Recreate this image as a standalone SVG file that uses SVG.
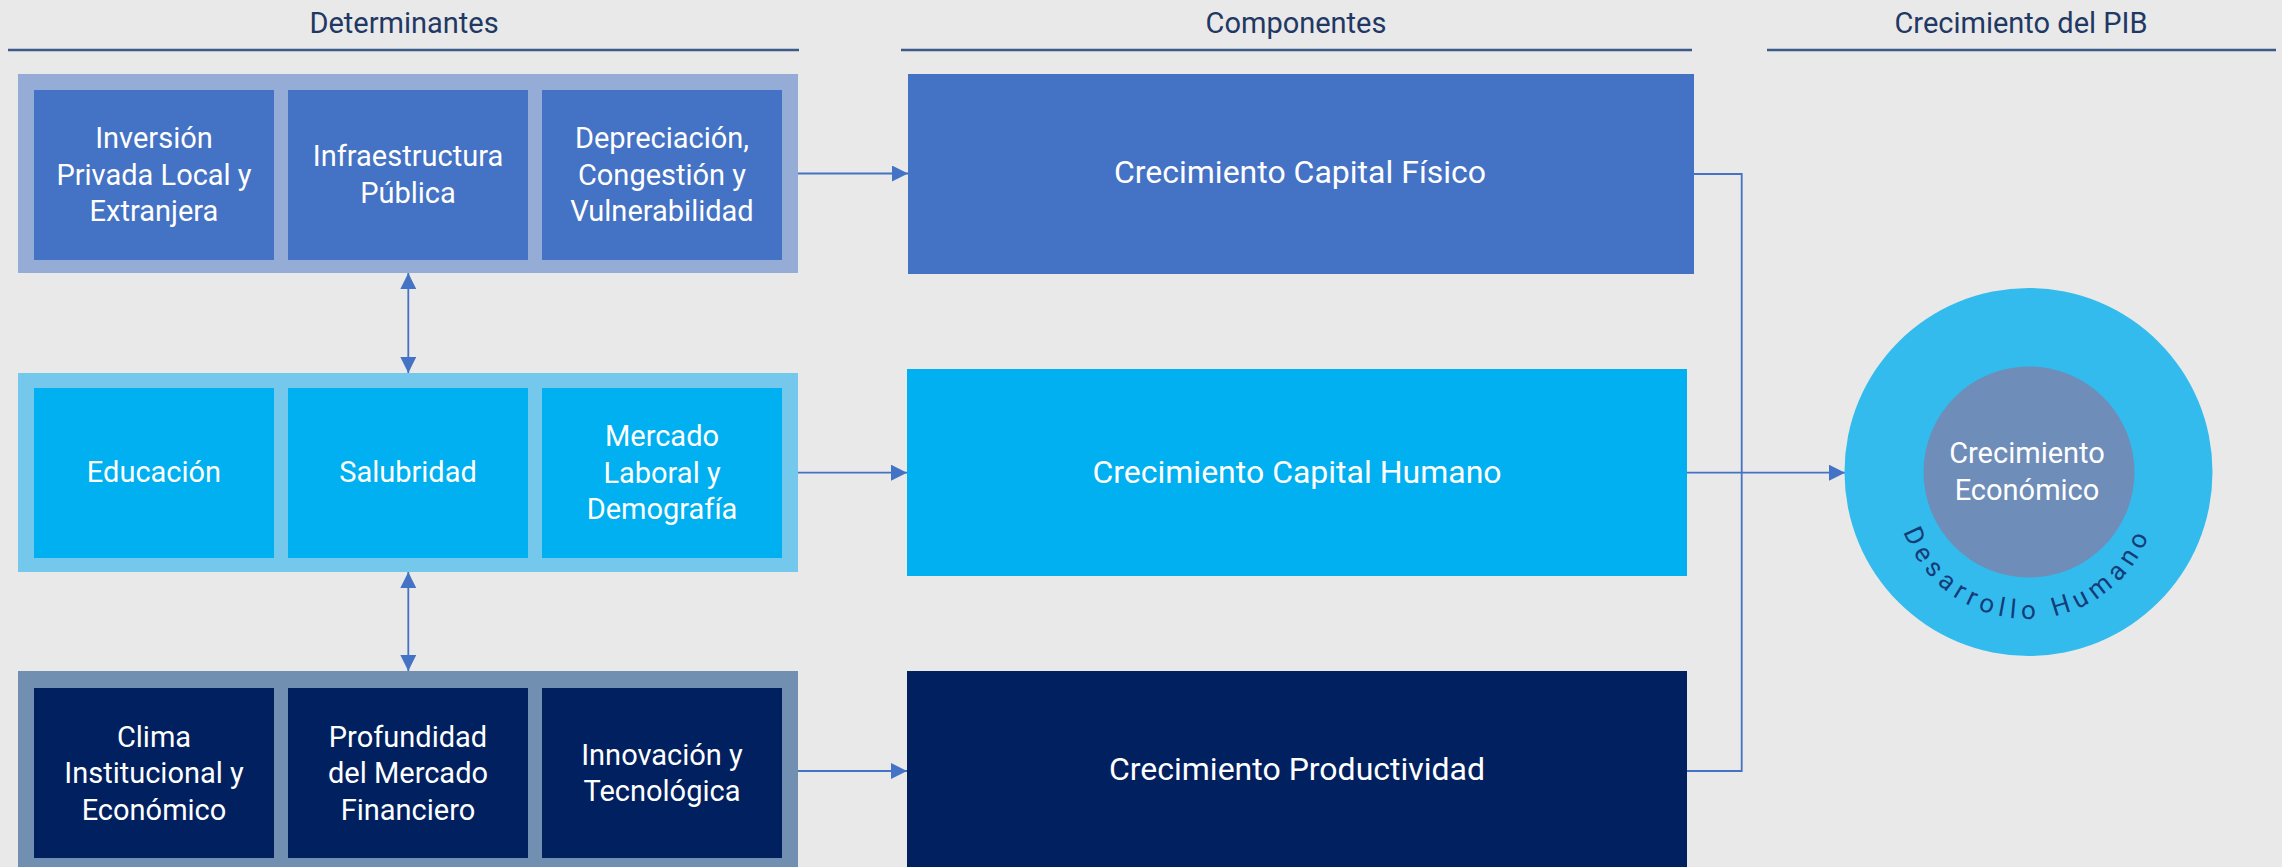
<svg xmlns="http://www.w3.org/2000/svg" width="2282" height="867" viewBox="0 0 2282 867">
<style>
.title{font-family:Roboto,"Liberation Sans",sans-serif;font-size:29px;fill:#1f3864;text-anchor:middle}
.hdr{stroke:#3e5a8a;stroke-width:2.5;fill:none}
.bt{font-family:Roboto,"Liberation Sans",sans-serif;font-size:29px;fill:#ffffff;text-anchor:middle}
.ct{font-family:Roboto,"Liberation Sans",sans-serif;font-size:32px;fill:#ffffff;text-anchor:middle}
.conn{stroke:#4472c4;stroke-width:1.8;fill:none}
.o1{fill:#94acd6}.i1{fill:#4472c4}
.o2{fill:#73c8ec}.i2{fill:#00b0f0}
.o3{fill:#718fb0}.i3{fill:#002060}
</style>
<defs>
<marker id="ah" viewBox="0 0 16 16" refX="16" refY="8" markerWidth="16" markerHeight="16" markerUnits="userSpaceOnUse" orient="auto-start-reverse">
<path d="M0,0 L16,8 L0,16 z" fill="#4472c4"/>
</marker>
<path id="arc" d="M1896,488 A131,131 0 0 0 2158,488"/>
</defs>
<rect x="0" y="0" width="2282" height="867" fill="#e9e9e9"/>

<g id="headers">
<text class="title" x="404" y="33">Determinantes</text>
<line class="hdr" x1="8" y1="50" x2="799" y2="50"/>
<text class="title" x="1296" y="33">Componentes</text>
<line class="hdr" x1="901" y1="50" x2="1692" y2="50"/>
<text class="title" x="2021" y="33">Crecimiento del PIB</text>
<line class="hdr" x1="1767" y1="50" x2="2276" y2="50"/>
</g>

<g id="connectors">
<line class="conn" x1="798" y1="173.5" x2="908" y2="173.5" marker-end="url(#ah)"/>
<line class="conn" x1="798" y1="472.7" x2="907" y2="472.7" marker-end="url(#ah)"/>
<line class="conn" x1="798" y1="771" x2="907" y2="771" marker-end="url(#ah)"/>
<line class="conn" x1="408.3" y1="273" x2="408.3" y2="373" marker-start="url(#ah)" marker-end="url(#ah)"/>
<line class="conn" x1="408.3" y1="572" x2="408.3" y2="671" marker-start="url(#ah)" marker-end="url(#ah)"/>
<polyline class="conn" points="1694,174 1741.7,174 1741.7,771 1687,771"/>
<line class="conn" x1="1687" y1="472.7" x2="1845" y2="472.7" marker-end="url(#ah)"/>
</g>

<g id="row1">
<rect class="o1" x="18" y="74" width="780" height="199"/>
<g id="inversion"><rect class="i1" x="34" y="90" width="240" height="170"/>
<text class="bt" x="154" y="148">Inversión</text><text class="bt" x="154" y="184.5">Privada Local y</text><text class="bt" x="154" y="221">Extranjera</text></g>
<g id="infraestructura"><rect class="i1" x="288" y="90" width="240" height="170"/>
<text class="bt" x="408" y="166">Infraestructura</text><text class="bt" x="408" y="202.5">Pública</text></g>
<g id="depreciacion"><rect class="i1" x="542" y="90" width="240" height="170"/>
<text class="bt" x="662" y="148">Depreciación,</text><text class="bt" x="662" y="184.5">Congestión y</text><text class="bt" x="662" y="221">Vulnerabilidad</text></g>
</g>

<g id="row2">
<rect class="o2" x="18" y="373" width="780" height="199"/>
<g id="educacion"><rect class="i2" x="34" y="388" width="240" height="170"/>
<text class="bt" x="154" y="482">Educación</text></g>
<g id="salubridad"><rect class="i2" x="288" y="388" width="240" height="170"/>
<text class="bt" x="408" y="482">Salubridad</text></g>
<g id="mercado"><rect class="i2" x="542" y="388" width="240" height="170"/>
<text class="bt" x="662" y="446">Mercado</text><text class="bt" x="662" y="482.5">Laboral y</text><text class="bt" x="662" y="519">Demografía</text></g>
</g>

<g id="row3">
<rect class="o3" x="18" y="671" width="780" height="199"/>
<g id="clima"><rect class="i3" x="34" y="688" width="240" height="170"/>
<text class="bt" x="154" y="746.5">Clima</text><text class="bt" x="154" y="783">Institucional y</text><text class="bt" x="154" y="819.5">Económico</text></g>
<g id="profundidad"><rect class="i3" x="288" y="688" width="240" height="170"/>
<text class="bt" x="408" y="746.5">Profundidad</text><text class="bt" x="408" y="783">del Mercado</text><text class="bt" x="408" y="819.5">Financiero</text></g>
<g id="innovacion"><rect class="i3" x="542" y="688" width="240" height="170"/>
<text class="bt" x="662" y="764.5">Innovación y</text><text class="bt" x="662" y="801">Tecnológica</text></g>
</g>

<g id="capital-fisico"><rect class="i1" x="908" y="74" width="786" height="200"/>
<text class="ct" x="1300" y="183">Crecimiento Capital Físico</text></g>
<g id="capital-humano"><rect class="i2" x="907" y="369" width="780" height="207"/>
<text class="ct" x="1297" y="483">Crecimiento Capital Humano</text></g>
<g id="productividad"><rect class="i3" x="907" y="671" width="780" height="200"/>
<text class="ct" x="1297" y="780">Crecimiento Productividad</text></g>

<g id="crecimiento-economico">
<circle cx="2028.5" cy="472" r="184" fill="#33bbee"/>
<circle cx="2029" cy="472" r="105.5" fill="#6e8db9"/>
<text class="bt" x="2027" y="463">Crecimiento</text>
<text class="bt" x="2027" y="500">Económico</text>
<text font-family="Roboto,'Liberation Sans',sans-serif" font-size="26" fill="#143c78" letter-spacing="5.8" text-anchor="middle"><textPath href="#arc" startOffset="50%">Desarrollo Humano</textPath></text>
</g>
</svg>
